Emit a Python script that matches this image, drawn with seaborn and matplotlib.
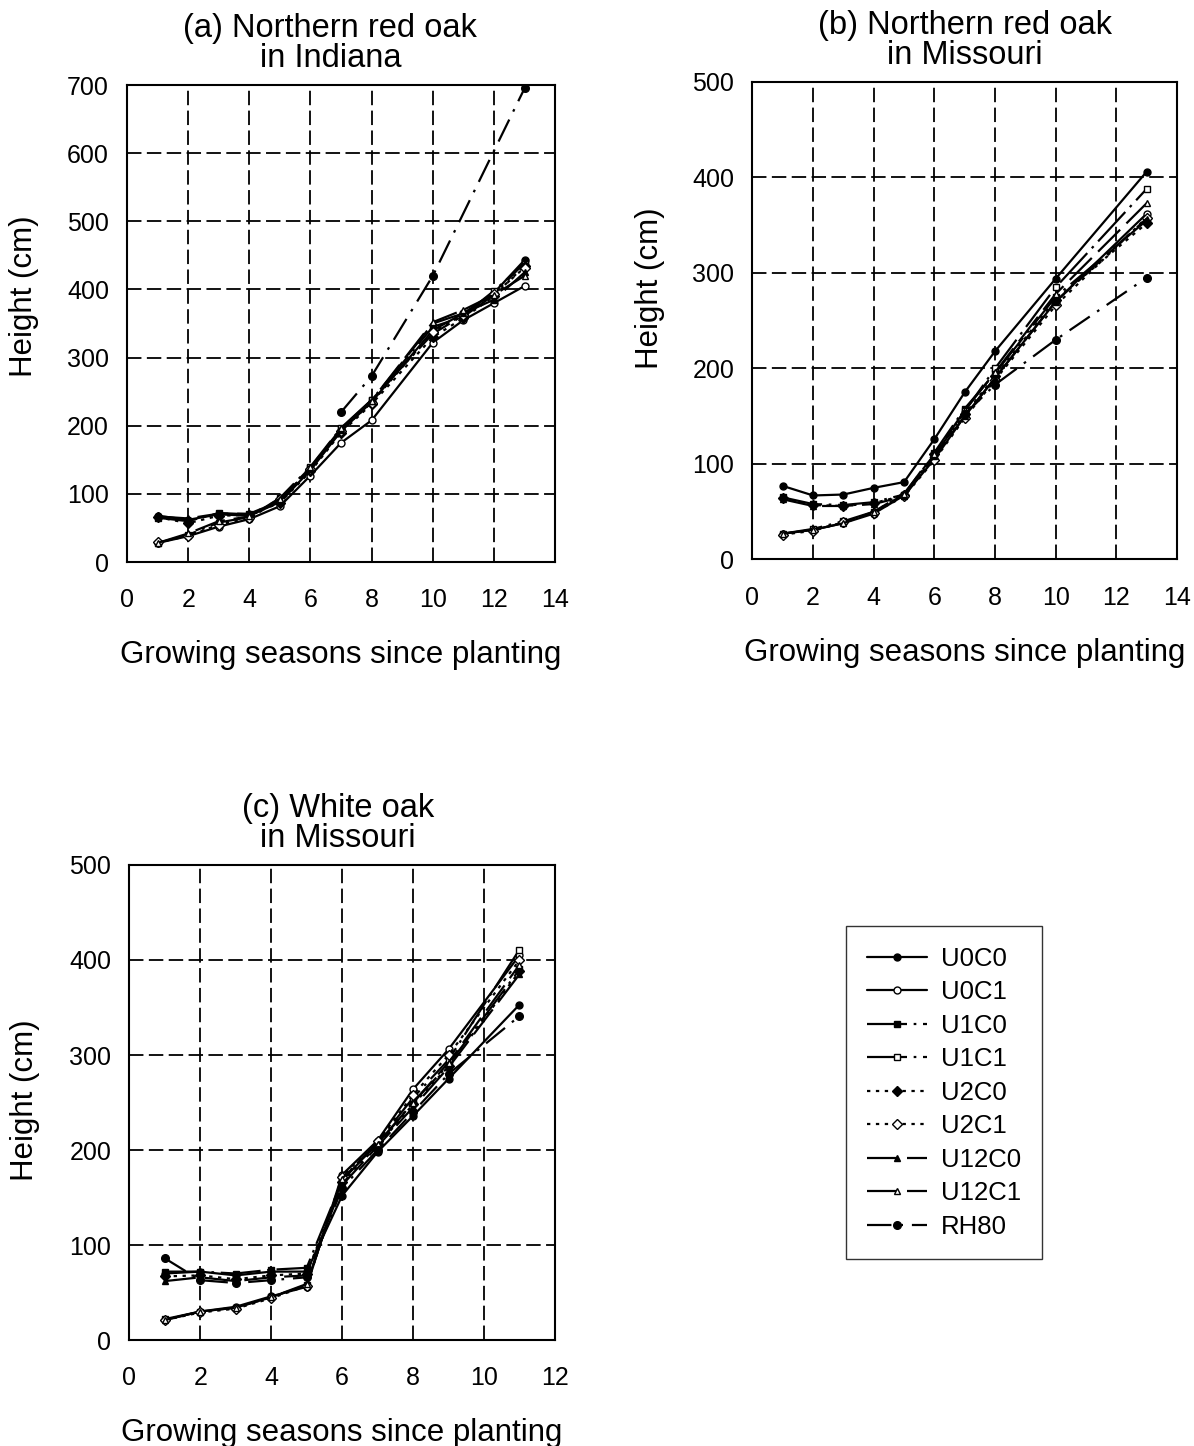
import numpy as np
import pandas as pd
import seaborn as sns
import matplotlib.pyplot as plt

# treatment names
names = ['U0C0', 'U0C1', 'U1C0', 'U1C1', 'U2C0', 'U2C1', 'U12C0', 'U12C1', 'RH80']

# (a) Northern red oak in Indiana
years_a = [1, 2, 3, 4, 5, 6, 7, 8, 10, 11, 12, 13]
years_a_rh = [7, 8, 10, 13]
height_a = {
    'U0C0':  [68, 62, 70, 68, 88, 135, 192, 235, 340, 365, 395, 443],
    'U0C1':  [28, 38, 52, 63, 82, 127, 175, 208, 322, 355, 380, 405],
    'U1C0':  [65, 60, 72, 70, 90, 138, 195, 238, 345, 360, 392, 440],
    'U1C1':  [28, 40, 58, 66, 94, 140, 197, 238, 335, 362, 398, 438],
    'U2C0':  [66, 57, 68, 69, 87, 133, 190, 232, 330, 358, 390, 435],
    'U2C1':  [29, 38, 55, 64, 92, 137, 193, 234, 338, 363, 393, 432],
    'U12C0': [67, 64, 71, 71, 89, 136, 194, 236, 350, 365, 385, 425],
    'U12C1': [28, 42, 60, 67, 93, 139, 196, 237, 352, 370, 392, 420],
    'RH80':  [220, 273, 420, 695],
}

# (b) Northern red oak in Missouri
years_b = [1, 2, 3, 4, 5, 6, 7, 8, 10, 13]
years_b_rh = [7, 8, 10, 13]
height_b = {
    'U0C0':  [77, 67, 68, 75, 81, 126, 175, 218, 294, 406],
    'U0C1':  [27, 31, 38, 48, 67, 105, 150, 190, 270, 362],
    'U1C0':  [65, 58, 57, 60, 68, 112, 158, 195, 275, 355],
    'U1C1':  [27, 32, 40, 50, 68, 108, 155, 200, 285, 388],
    'U2C0':  [64, 57, 56, 59, 67, 110, 152, 192, 272, 352],
    'U2C1':  [26, 30, 39, 49, 66, 104, 148, 188, 266, 358],
    'U12C0': [63, 56, 56, 58, 66, 108, 150, 190, 270, 357],
    'U12C1': [27, 31, 38, 50, 69, 110, 156, 196, 278, 373],
    'RH80':  [152, 183, 230, 295],
}

# (c) White oak in Missouri
years_c = [1, 2, 3, 4, 5, 6, 7, 8, 9, 11]
height_c = {
    'U0C0':  [70, 72, 68, 72, 72, 152, 198, 236, 275, 353],
    'U0C1':  [21, 30, 35, 46, 56, 174, 210, 264, 306, 405],
    'U1C0':  [72, 72, 70, 74, 76, 168, 207, 250, 290, 390],
    'U1C1':  [22, 30, 34, 45, 58, 170, 208, 255, 295, 411],
    'U2C0':  [67, 68, 64, 68, 70, 166, 205, 248, 288, 388],
    'U2C1':  [21, 29, 33, 44, 57, 172, 209, 258, 300, 400],
    'U12C0': [62, 66, 62, 66, 68, 163, 204, 245, 287, 385],
    'U12C1': [21, 30, 34, 45, 59, 170, 206, 250, 292, 395],
    'RH80':  [86, 63, 60, 63, 66, 160, 200, 240, 280, 341],
}

styles = {
    'U0C0':  dict(marker='o', mfc='black', ls='-'),
    'U0C1':  dict(marker='o', mfc='white', ls='-'),
    'U1C0':  dict(marker='s', mfc='black', ls=(0, (18, 3, 1.2, 3))),
    'U1C1':  dict(marker='s', mfc='white', ls=(0, (18, 3, 1.2, 3))),
    'U2C0':  dict(marker='D', mfc='black', ls=(0, (1.5, 2.5))),
    'U2C1':  dict(marker='D', mfc='white', ls=(0, (1.5, 2.5))),
    'U12C0': dict(marker='^', mfc='black', ls=(0, (14, 4))),
    'U12C1': dict(marker='^', mfc='white', ls=(0, (14, 4))),
    'RH80':  dict(marker='o', mfc='black', ls=(0, (11, 4, 1.2, 4))),
}

sns.set_theme(style='white')
plt.rcParams['font.family'] = ['Liberation Sans', 'DejaVu Sans']
plt.rcParams['text.color'] = 'black'
plt.rcParams['axes.labelcolor'] = 'black'
plt.rcParams['xtick.color'] = 'black'
plt.rcParams['ytick.color'] = 'black'

fig = plt.figure(figsize=(11.94, 14.46), dpi=100)
ax_a = fig.add_axes([0.1064, 0.6113, 0.3585, 0.3299])
ax_b = fig.add_axes([0.6302, 0.6131, 0.3555, 0.3302])
ax_c = fig.add_axes([0.1083, 0.0733, 0.3565, 0.3285])


def draw(ax, years, years_rh, heights):
    for name in names:
        xs = years_rh if (name == 'RH80' and years_rh is not None) else years
        df = pd.DataFrame({'x': xs, 'y': heights[name]})
        st = styles[name]
        ms = 5.5 if name == 'RH80' else 5
        sns.lineplot(data=df, x='x', y='y', ax=ax, color='black', legend=False,
                     linestyle=st['ls'], linewidth=1.6, marker=st['marker'],
                     markersize=ms, markerfacecolor=st['mfc'],
                     markeredgecolor='black', markeredgewidth=1.0, label=name)


def style_axis(ax, title, title_x, xmax, ymax, ylab_pos):
    ax.set_xlim(0, xmax)
    ax.set_ylim(0, ymax)
    ax.set_xticks(np.arange(0, xmax + 1, 2))
    ax.set_yticks(np.arange(0, ymax + 1, 100))
    ax.set_axisbelow(True)
    ax.grid(True, color='black', linestyle=(0, (8, 3)), linewidth=1.3)
    for sp in ax.spines.values():
        sp.set_color('black')
        sp.set_linewidth(1.5)
    ax.tick_params(axis='both', direction='inout', length=12, width=1.3,
                   colors='black', labelsize=18)
    ax.tick_params(axis='x', pad=13)
    ax.tick_params(axis='y', pad=7)
    ax.set_title(title, fontsize=23.5, pad=13, linespacing=0.95, x=title_x)
    ax.set_xlabel('Growing seasons since planting', fontsize=22.5, labelpad=20)
    ax.set_ylabel('Height (cm)', fontsize=22.5)
    ax.yaxis.set_label_coords(*ylab_pos)


draw(ax_a, years_a, years_a_rh, height_a)
draw(ax_b, years_b, years_b_rh, height_b)
draw(ax_c, years_c, None, height_c)

style_axis(ax_a, '(a) Northern red oak\nin Indiana', 0.475, 14, 700, (-0.205, 0.558))
style_axis(ax_b, '(b) Northern red oak\nin Missouri', 0.5, 14, 500, (-0.205, 0.569))
style_axis(ax_c, '(c) White oak\nin Missouri', 0.49, 12, 500, (-0.21, 0.505))

handles, labels = ax_c.get_legend_handles_labels()
leg = fig.legend(handles, labels, loc='upper left',
                 bbox_to_anchor=(846 / 1194, 1 - 926 / 1446), borderaxespad=0,
                 fontsize=18.5, handlelength=2.35, handletextpad=0.55,
                 labelspacing=0.37, borderpad=0.8, fancybox=False, frameon=True)
leg.get_frame().set_edgecolor('black')
leg.get_frame().set_linewidth(1.0)

fig.savefig('out.png', dpi=100, facecolor='white')
